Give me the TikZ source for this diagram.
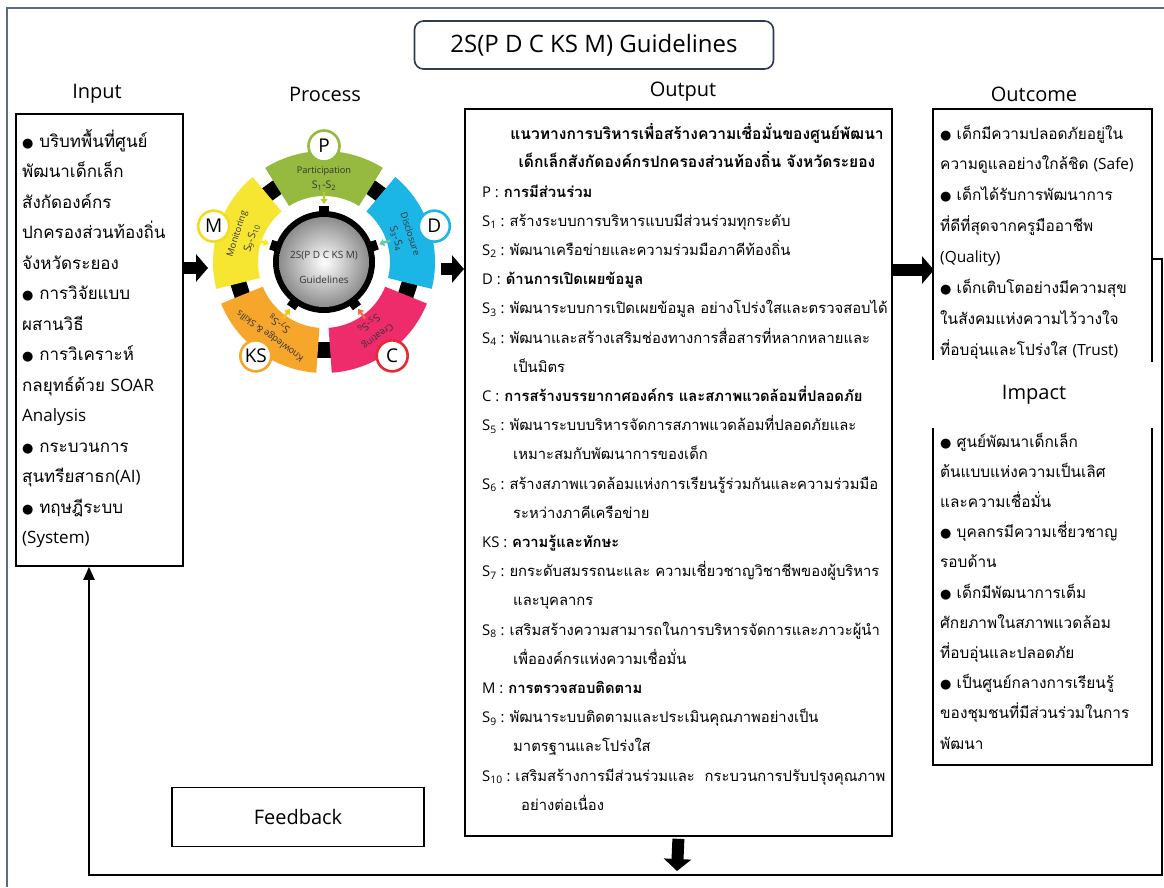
\documentclass[tikz,border=0pt]{standalone}
\usepackage{fontspec}
\setmainfont{Open Sans}
\newfontfamily\thai[Script=Thai]{Loma}
\newfontfamily\sym{DejaVu Sans}
\usetikzlibrary{arrows.meta}

\definecolor{segP}{HTML}{96BA40}
\definecolor{segD}{HTML}{1CB6E6}
\definecolor{segC}{HTML}{EE2C6C}
\definecolor{segK}{HTML}{F6A62A}
\definecolor{segM}{HTML}{F7E631}
\definecolor{rimC}{HTML}{E52A33}
\definecolor{rimM}{HTML}{F2DC1E}
\definecolor{navy}{HTML}{2E3A4D}
\definecolor{framegray}{HTML}{5B6B80}

\newcommand\bul{{\sym\fontsize{13}{13}\selectfont ●}\ }
\newcommand\la[1]{{\rmfamily #1}}
\newcommand\Sl[1]{\la{S\textsubscript{#1} :}\ }
\newcommand\ind{\hspace*{31pt}}

\tikzset{
  boxline/.style={draw=black, line width=1.8pt},
  headlabel/.style={font=\fontsize{20}{24}\selectfont, inner sep=0pt},
  inline/.style={anchor=base west, inner sep=0pt, font=\thai\fontsize{17}{20}\selectfont},
  outline/.style={anchor=base west, inner sep=0pt, font=\thai\fontsize{14.8}{18}\selectfont},
  ocline/.style={anchor=base west, inner sep=0pt, font=\thai\fontsize{15.4}{18}\selectfont},
  blockarrow/.style={line width=12pt, -{Triangle[width=27pt,length=12pt]}},
  loopline/.style={line width=2pt, -{Triangle[width=11pt,length=13pt]}},
  badge/.style={circle, fill=white, line width=2.6pt, minimum size=31pt, inner sep=0pt,
    font=\fontsize{19}{20}\selectfont},
  segname/.style={inner sep=0pt, text=black!80, font=\fontsize{9.2}{10}\selectfont},
  segrange/.style={inner sep=0pt, text=black!80, font=\fontsize{10.5}{11}\selectfont},
}

\begin{document}
\begin{tikzpicture}[x=1pt, y=-1pt]
\useasboundingbox (0,0) rectangle (1164,887);
\fill[white] (0,0) rectangle (1164,887);

% outer frame
\draw[framegray, line width=1.2pt] (7,887) -- (7,8) -- (1164,8);

% title
\node[draw=navy, line width=1.6pt, rounded corners=9pt, minimum width=359pt,
  minimum height=48pt, font=\fontsize{24}{28}\selectfont] (title) at (594,45)
  {2S(P D C KS M) Guidelines};

% column headings
\node[headlabel] (hin) at (97,94) {Input};
\node[headlabel] (hpr) at (325,94) {Process};
\node[headlabel] (hout) at (683,92) {Output};
\node[headlabel] (hoc) at (1034,94) {Outcome};
\node[headlabel] (him) at (1034,395) {Impact};

% input box
\node[boxline, minimum width=167pt, minimum height=452pt, anchor=north west,
  inner sep=0pt] (inbox) at (15,113) {};
\foreach \t [count=\i from 0] in {
  \bul บริบทพื้นที่ศูนย์,
  พัฒนาเด็กเล็ก,
  สังกัดองค์กร,
  ปกครองส่วนท้องถิ่น,
  จังหวัดระยอง,
  \bul การวิจัยแบบ,
  ผสานวิธี,
  \bul การวิเคราะห์,
  กลยุทธ์ด้วย \la{SOAR},
  \la{Analysis},
  \bul กระบวนการ,
  สุนทรียสาธก\la{(AI)},
  \bul ทฤษฎีระบบ,
  \la{(System)}}
  \node[inline] (in\i) at (22,{147+30.5*\i}) {\t};

% output box
\node[boxline, minimum width=427pt, minimum height=727pt, anchor=north west,
  inner sep=0pt] (outbox) at (464,108) {};
\node[anchor=base, inner sep=0pt, font=\thai\bfseries\fontsize{15.6}{20}\selectfont]
  (outh1) at (697,139) {แนวทางการบริหารเพื่อสร้างความเชื่อมั่นของศูนย์พัฒนา};
\node[anchor=base, inner sep=0pt, font=\thai\bfseries\fontsize{15.6}{20}\selectfont]
  (outh2) at (697,167) {เด็กเล็กสังกัดองค์กรปกครองส่วนท้องถิ่น จังหวัดระยอง};
\foreach \t [count=\i from 0] in {
  \la{P :} \textbf{การมีส่วนร่วม},
  \Sl{1}สร้างระบบการบริหารแบบมีส่วนร่วมทุกระดับ,
  \Sl{2}พัฒนาเครือข่ายและความร่วมมือภาคีท้องถิ่น,
  \la{D :} \textbf{ด้านการเปิดเผยข้อมูล},
  \Sl{3}พัฒนาระบบการเปิดเผยข้อมูล อย่างโปร่งใสและตรวจสอบได้,
  \Sl{4}พัฒนาและสร้างเสริมช่องทางการสื่อสารที่หลากหลายและ,
  \ind เป็นมิตร,
  \la{C :} \textbf{การสร้างบรรยากาศองค์กร และสภาพแวดล้อมที่ปลอดภัย},
  \Sl{5}พัฒนาระบบบริหารจัดการสภาพแวดล้อมที่ปลอดภัยและ,
  \ind เหมาะสมกับพัฒนาการของเด็ก,
  \Sl{6}สร้างสภาพแวดล้อมแห่งการเรียนรู้ร่วมกันและความร่วมมือ,
  \ind ระหว่างภาคีเครือข่าย,
  \la{KS :} \textbf{ความรู้และทักษะ},
  \Sl{7}ยกระดับสมรรถนะและ ความเชี่ยวชาญวิชาชีพของผู้บริหาร,
  \ind และบุคลากร,
  \Sl{8}เสริมสร้างความสามารถในการบริหารจัดการและภาวะผู้นำ,
  \ind เพื่อองค์กรแห่งความเชื่อมั่น,
  \la{M :} \textbf{การตรวจสอบติดตาม},
  \Sl{9}พัฒนาระบบติดตามและประเมินคุณภาพอย่างเป็น,
  \ind มาตรฐานและโปร่งใส,
  \Sl{10}เสริมสร้างการมีส่วนร่วมและ\ \ กระบวนการปรับปรุงคุณภาพ,
  \hspace*{39pt}อย่างต่อเนื่อง}
  \node[outline] (out\i) at (482,{197+29.2*\i}) {\t};

% outcome box (open at the bottom) and impact box (open at the top)
\draw[black, line width=1.8pt] (933,360) -- (933,109) -- (1152,109) -- (1152,362);
\draw[black, line width=1.8pt] (933,428) -- (933,765) -- (1152,765) -- (1152,428);
\foreach \t [count=\i from 0] in {
  \bul เด็กมีความปลอดภัยอยู่ใน,
  ความดูแลอย่างใกล้ชิด \la{(Safe)},
  \bul เด็กได้รับการพัฒนาการ,
  ที่ดีที่สุดจากครูมืออาชีพ,
  \la{(Quality)},
  \bul เด็กเติบโตอย่างมีความสุข,
  ในสังคมแห่งความไว้วางใจ,
  ที่อบอุ่นและโปร่งใส \la{(Trust)}}
  \node[ocline] (oc\i) at (940,{139+30.9*\i}) {\t};
\foreach \t [count=\i from 0] in {
  \bul ศูนย์พัฒนาเด็กเล็ก,
  ต้นแบบแห่งความเป็นเลิศ,
  และความเชื่อมั่น,
  \bul บุคลกรมีความเชี่ยวชาญ,
  รอบด้าน,
  \bul เด็กมีพัฒนาการเต็ม,
  ศักยภาพในสภาพแวดล้อม,
  ที่อบอุ่นและปลอดภัย,
  \bul เป็นศูนย์กลางการเรียนรู้,
  ของชุมชนที่มีส่วนร่วมในการ,
  พัฒนา}
  \node[ocline] (im\i) at (940,{447+30.2*\i}) {\t};

% feedback box
\node[draw=black, line width=1.3pt, minimum width=252pt, minimum height=59pt,
  font=\fontsize{20}{24}\selectfont] (feedback) at (298,817) {Feedback};

% process wheel
\begin{scope}[shift={(324,262)}, y=1pt]
  \foreach \a in {54,126,198,270,342}
    \fill[black, rotate=\a] (80,-7) rectangle (96,7);
  \foreach \a/\c in {90/segP,18/segD,-54/segC,-126/segK,162/segM}
    \fill[\c] ({\a-32}:66) -- ({\a-32}:111)
      arc[start angle={\a-32}, end angle={\a+32}, radius=111]
      -- ({\a+32}:66)
      arc[start angle={\a+32}, end angle={\a-32}, radius=66] -- cycle;
  \fill[black] (0,0) circle[radius=51];
  \shade[inner color=white, outer color=black!45] (0,0) circle[radius=45];
  \foreach \a in {90,18,-54,-126,162}
    \fill[black, rotate=\a] (47,-5) rectangle (56,5);
  \node[inner sep=0pt, text=black!80, font=\fontsize{10}{11}\selectfont] (hubA) at (0,6) {2S(P D C KS M)};
  \node[inner sep=0pt, text=black!80, font=\fontsize{10}{11}\selectfont] (hubB) at (0,-18) {Guidelines};
  \foreach \a/\c/\r/\L/\n/\s in {
      90/segP/segP/P/Participation/{S\textsubscript{1}-S\textsubscript{2}},
      18/segD/segD/D/Disclosure/{S\textsubscript{3}-S\textsubscript{4}},
      -54/segC/rimC/C/Creating/{S\textsubscript{5}-S\textsubscript{6}},
      -126/segK/segK/KS/{Knowledge \& Skills}/{S\textsubscript{7}-S\textsubscript{8}},
      162/segM/rimM/M/Monitoring/{S\textsubscript{9}-S\textsubscript{10}}}{
    \draw[\c!70!yellow, line width=2.4pt, -{Triangle[width=7pt,length=5pt]}]
      (\a:70) -- (\a:58);
    \node[segname, rotate=\a-90] (name\L) at (\a:91) {\n};
    \node[segrange, rotate=\a-90] (range\L) at (\a:76) {\s};
    \node[badge, draw=\r] (badge\L) at (\a:116) {\L};
  }
\end{scope}

% flow arrows
\coordinate (a1tip) at (208,268);
\coordinate (a2tail) at (441,269);
\coordinate (a3tip) at (934,270);
\coordinate (a4tip) at (677,871);
\draw[blockarrow] (inbox.north east |- a1tip) -- (a1tip);
\draw[blockarrow] (a2tail) -- (outbox.north west |- a2tail);
\draw[blockarrow] (outbox.north east |- a3tip) -- (a3tip);
\draw[blockarrow] (outbox.south) ++(0,2) coordinate (a4tail) (a4tail) -- (a4tip);

% feedback loop
\coordinate (fbstart) at (1152,259);
\coordinate (fbright) at (1162,259);
\coordinate (fbcorner) at (1162,875);
\coordinate (fbleft) at (89,875);
\draw[loopline] (fbstart) -- (fbright) -- (fbcorner) -- (fbleft) -- (fbleft |- inbox.south);
\end{tikzpicture}
\end{document}
